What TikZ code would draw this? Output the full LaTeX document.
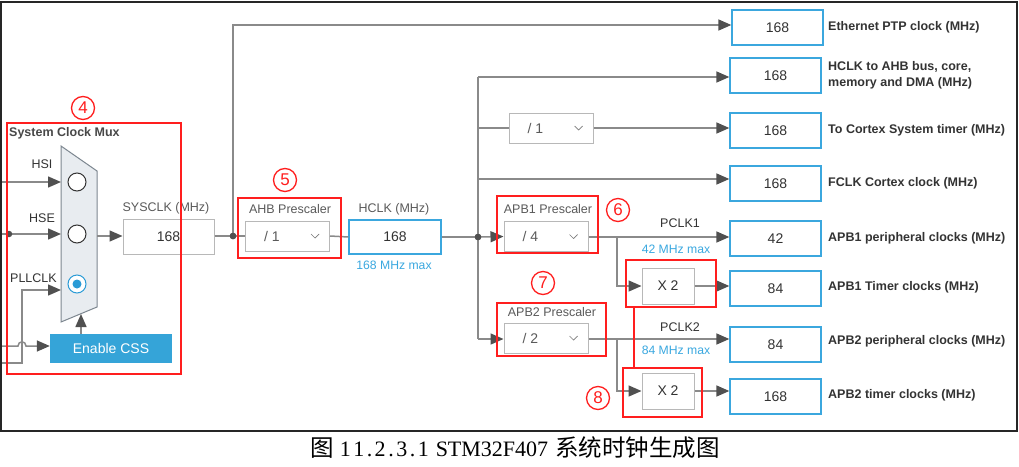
\documentclass[tikz,border=0pt]{standalone}
\usepackage{fontspec}
\setmainfont{Liberation Sans}
\newfontfamily\capserif{Liberation Serif}
\newfontfamily\cjk{Noto Sans CJK SC}
\usetikzlibrary{arrows.meta,calc}
\definecolor{linegray}{HTML}{8A8A8A}
\definecolor{tipgray}{HTML}{505050}
\definecolor{boxgray}{HTML}{B8B8B8}
\definecolor{bluebox}{HTML}{3BA7DE}
\definecolor{cssblue}{HTML}{35A4D8}
\definecolor{txtdark}{HTML}{333333}
\definecolor{txtgray}{HTML}{5A5A5A}
\definecolor{maxblue}{HTML}{3AA8E0}
\definecolor{redc}{HTML}{FF1E1E}
\definecolor{muxfill}{HTML}{E8ECF0}
\definecolor{muxline}{HTML}{7D8790}
\definecolor{radioblue}{HTML}{2A9BD6}
\newcommand\mkdd[3]{%
  \node[ddbox] (#1) at (#2) {};
  \node[ddtxt] (#1t) at ($(#1.west)+(27,0)$) {#3};
  \draw[chev] ($(#1.east)+(-19,-2)$) -- ++(4,4) -- ++(4,-4);
}
\begin{document}
\begin{tikzpicture}[x=1pt,y=-1pt,
  ln/.style={draw=linegray,line width=1.5pt},
  arr/.style={ln,-{Triangle[length=13pt,width=11pt,color=tipgray]}},
  valbox/.style={draw=boxgray,fill=white,line width=1pt,minimum width=91pt,minimum height=35pt,inner sep=0pt,text=txtdark,font=\fontsize{14}{16}\selectfont},
  outbox/.style={valbox,draw=bluebox,line width=1.3pt},
  ddbox/.style={draw=boxgray,fill=white,line width=1pt,minimum width=84pt,minimum height=30pt,inner sep=0pt},
  ddtxt/.style={text=txtgray,inner sep=0pt,font=\fontsize{14}{16}\selectfont},
  chev/.style={draw=txtgray!80,line width=0.7pt},
  x2box/.style={draw=boxgray,fill=white,line width=1pt,minimum width=52pt,minimum height=36pt,inner sep=0pt,text=txtdark,font=\fontsize{14}{16}\selectfont},
  lbl/.style={text=txtdark,font=\bfseries\fontsize{12.5}{16}\selectfont,anchor=west,inner sep=0pt},
  toplbl/.style={text=txtgray,font=\fontsize{12.5}{14}\selectfont,inner sep=0pt},
  inlbl/.style={text=txtdark,font=\fontsize{12.5}{14}\selectfont,inner sep=0pt},
  maxlbl/.style={text=maxblue,font=\fontsize{12.2}{14}\selectfont,inner sep=0pt},
  redbox/.style={draw=redc,line width=1.8pt,inner sep=0pt},
  cnum/.style={circle,draw=redc,text=redc,line width=1.3pt,minimum size=23pt,inner sep=0pt,font=\fontsize{17}{17}\selectfont},
  dotn/.style={circle,fill=tipgray,minimum size=6.5pt,inner sep=0pt},
  radio/.style={circle,draw=txtdark,fill=white,line width=1pt,minimum size=18pt,inner sep=0pt}
]
\useasboundingbox (0,0) rectangle (1019,466);
\fill[white] (0,0) rectangle (1019,466);
% frame
\draw[line width=1.8pt,draw=black!85] (1,2) rectangle (1017,431);

% ---------- mux ----------
\node[inlbl,font=\bfseries\fontsize{12.5}{14}\selectfont,anchor=west,text=txtgray!80!black] (muxtitle) at (9,133) {System Clock Mux};
\draw[draw=muxline,fill=muxfill,line width=1pt] (61,146) -- (97,171) -- (97,307) -- (61,322) -- cycle;
\node[radio] (hsir) at (77,182) {};
\node[radio] (hser) at (77,234) {};
\node[radio,draw=radioblue] (pllr) at (77,284) {};
\node[circle,fill=radioblue,minimum size=9pt,inner sep=0pt] (plld) at (pllr) {};
\coordinate (hsiin) at (61,182);
\coordinate (hsein) at (61,234);
\coordinate (pllin) at (61,290);
\coordinate (cssin) at (81,314);
\coordinate (muxout) at (97,236);
\coordinate (hsisrc) at (2,182);
\coordinate (hsesrc) at (2,234);
\coordinate (pllsrc) at (2,363);
\coordinate (pllbend) at (22,290);
\coordinate (csssrc) at (2,346);
\node[inlbl] (hsil) at (42,164) {HSI};
\node[inlbl] (hsel) at (42,218) {HSE};
\node[inlbl,anchor=west] (plll) at (10,278) {PLLCLK};
\node[fill=cssblue,text=white,minimum width=122pt,minimum height=29pt,inner sep=0pt,font=\fontsize{14}{16}\selectfont] (css) at (111,348.5) {Enable CSS};

\draw[arr] (hsisrc) -- (hsiin);
\draw[arr] (hsesrc) -- (hsein);
\node[dotn] (hsed) at (9,234) {};
\draw[arr] (pllsrc) -| (pllbend) -- (pllin);
\draw[arr] (csssrc) -- (18,346) .. controls (18,340.5) and (26,340.5) .. (26,346) -- (css.west |- csssrc);
\draw[arr] (css.north -| cssin) -- (cssin);

% ---------- sysclk ----------
\node[valbox] (sys) at (168.5,236.5) {168};
\node[toplbl] (syslbl) at (166,208) {SYSCLK (MHz)};
\draw[arr] (muxout) -- (sys.west |- muxout);
\node[dotn] (d1) at (233,236) {};
\coordinate (bETH) at (233,25);

% ---------- AHB ----------
\mkdd{ahbdd}{287.5,236}{/ 1}
\node[toplbl] (ahbl) at (290,209) {AHB Prescaler};
\node[outbox,minimum width=92pt,minimum height=34pt] (hclk) at (395,237) {168};
\node[toplbl] (hclkl) at (394,209) {HCLK (MHz)};
\node[maxlbl] (hclkmax) at (394,265) {168 MHz max};

% ---------- outputs ----------
\node[outbox] (eth) at (777.5,27.5) {168};
\node[outbox] (ahbout) at (775.5,75.5) {168};
\node[outbox] (cortex) at (775.5,130.5) {168};
\node[outbox] (fclk) at (775.5,183.5) {168};
\node[outbox] (apb1p) at (775.5,238.5) {42};
\node[outbox] (apb1t) at (775.5,288.5) {84};
\node[outbox] (apb2p) at (775.5,344.5) {84};
\node[outbox] (apb2t) at (775.5,396.5) {168};

\node[lbl] (ethl) at (828,27) {Ethernet PTP clock (MHz)};
\node[lbl,align=left] (ahbol) at (828,75) {HCLK to AHB bus, core,\\memory and DMA (MHz)};
\node[lbl] (cortexl) at (828,130) {To Cortex System timer (MHz)};
\node[lbl] (fclkl) at (828,183) {FCLK Cortex clock (MHz)};
\node[lbl] (apb1pl) at (828,238) {APB1 peripheral clocks (MHz)};
\node[lbl] (apb1tl) at (828,287) {APB1 Timer clocks (MHz)};
\node[lbl] (apb2pl) at (828,341) {APB2 peripheral clocks (MHz)};
\node[lbl] (apb2tl) at (828,395) {APB2 timer clocks (MHz)};

% ---------- branch tree ----------
\coordinate (bAHB) at (478,77);
\coordinate (bCOR) at (478,128);
\coordinate (bFCL) at (478,179);
\coordinate (bAPB2) at (478,339);
\mkdd{cordd}{551,128}{/ 1}
\mkdd{apb1dd}{546,236.5}{/ 4}
\mkdd{apb2dd}{546,338}{/ 2}
\node[toplbl] (apb1l) at (548,209) {APB1 Prescaler};
\node[toplbl] (apb2l) at (552,312) {APB2 Prescaler};
\node[x2box] (x2a) at (668,286) {X 2};
\node[x2box] (x2b) at (668,391) {X 2};
\coordinate (b1) at (617,237);
\coordinate (b2) at (617,339);
\node[inlbl] (pclk1) at (680,223) {PCLK1};
\node[maxlbl] (max1) at (676,249) {42 MHz max};
\node[inlbl] (pclk2) at (680,327) {PCLK2};
\node[maxlbl] (max2) at (676,350) {84 MHz max};

% connectors
\draw[ln] (sys.east |- d1) -- (d1.center);
\draw[arr] (d1.center) -- (bETH) -- (bETH -| eth.west);
\draw[ln] (d1.center) -- (ahbdd.west);
\draw[ln] (ahbdd.east) -- (hclk.west);
\node[dotn] (d2) at (478,237) {};
\draw[ln] (hclk.east) -- (d2.center);
\draw[ln] (bAHB) -- (bAPB2);
\draw[arr] (bAHB) -- (bAHB -| ahbout.west);
\draw[ln] (bCOR) -- (cordd.west);
\draw[arr] (cordd.east) -- (cordd.east -| cortex.west);
\draw[arr] (bFCL) -- (bFCL -| fclk.west);
\draw[arr] (d2.center) -- (apb1dd.west);
\draw[arr] (bAPB2) -- (bAPB2 -| apb2dd.west);
\draw[ln] (apb1dd.east |- b1) -- (b1);
\draw[arr] (b1) -- (b1 -| apb1p.west);
\draw[arr] (b1) |- (x2a.west);
\draw[arr] (x2a.east) -- (x2a.east -| apb1t.west);
\draw[ln] (apb2dd.east |- b2) -- (b2);
\draw[arr] (b2) -- (b2 -| apb2p.west);
\draw[arr] (b2) |- (x2b.west);
\draw[arr] (x2b.east) -- (x2b.east -| apb2t.west);
\node[dotn] (d1b) at (d1) {};
\node[dotn] (d2b) at (d2) {};

% ---------- red annotations ----------
\node[redbox,minimum width=174pt,minimum height=251pt] (r4) at (94,248.5) {};
\node[redbox,minimum width=103pt,minimum height=60pt] (r5) at (289.5,228) {};
\node[redbox,minimum width=101pt,minimum height=57pt] (r6) at (547.5,224.5) {};
\node[redbox,minimum width=109pt,minimum height=53pt] (r7) at (551.5,329.5) {};
\node[redbox,minimum width=90pt,minimum height=47pt] (r8a) at (671,283.5) {};
\node[redbox,minimum width=79pt,minimum height=49pt] (r8b) at (662.5,392.5) {};
\draw[draw=redc,line width=1.8pt] (r8a.south -| 634,0) -- (r8b.north -| 634,0);
\node[cnum] (n4) at (83,108) {4};
\node[cnum] (n5) at (285,180) {5};
\node[cnum] (n6) at (618,210) {6};
\node[cnum] (n7) at (543,283) {7};
\node[cnum] (n8) at (598,398) {8};

% ---------- caption ----------
\node[inner sep=0pt,text=black] (cap) at (515,448) {\fontsize{23.5}{26}\selectfont{\cjk 图}\hspace{6pt}{\capserif\fontsize{22}{24}\selectfont 1\kern2.5pt1\kern2.5pt.\kern2.5pt2\kern2.5pt.\kern2.5pt3\kern2.5pt.\kern2.5pt1\hspace{7pt}STM32F407}\hspace{7pt}{\cjk 系统时钟生成图}};
\end{tikzpicture}
\end{document}
